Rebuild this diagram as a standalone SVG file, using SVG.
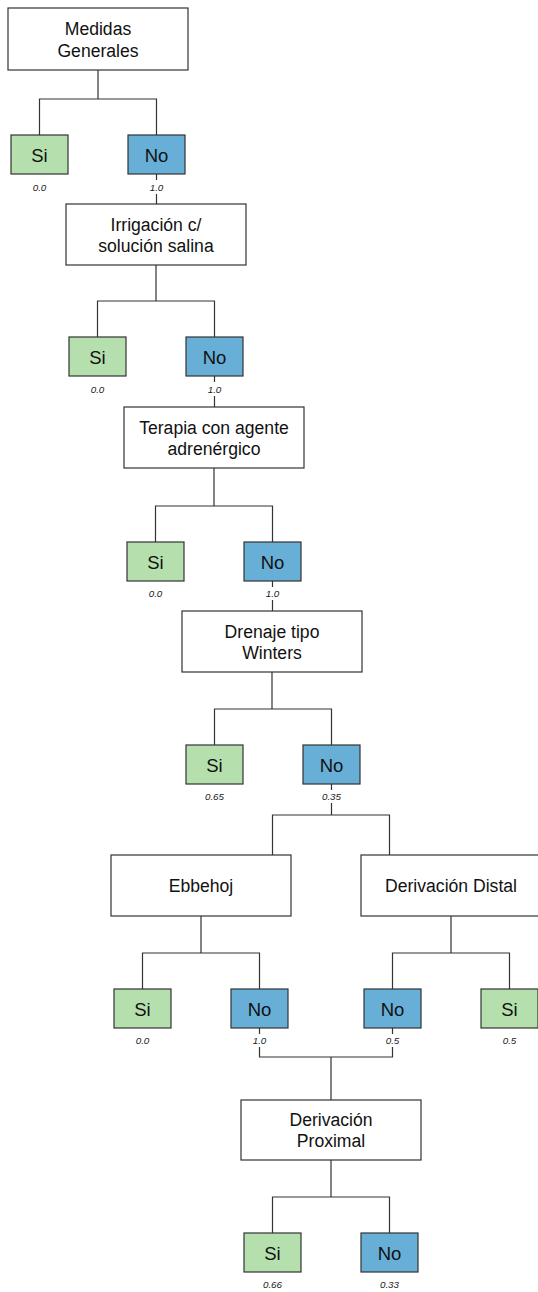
<svg xmlns="http://www.w3.org/2000/svg" width="538" height="1292" viewBox="0 0 538 1292">
<style>
.box{fill:#ffffff;stroke:#333333;stroke-width:1.2}
.si{fill:#b5e0ad;stroke:#333333;stroke-width:1.2}
.no{fill:#68afd8;stroke:#333333;stroke-width:1.2}
.t{font-family:"Liberation Sans",Arial,sans-serif;font-size:17.6px;fill:#111111;text-anchor:middle}
.yn{font-family:"Liberation Sans",Arial,sans-serif;font-size:18.5px;fill:#111111;text-anchor:middle}
.p{font-family:"Liberation Sans",Arial,sans-serif;font-size:9.8px;font-style:italic;fill:#222222;text-anchor:middle}
.c{fill:none;stroke:#333333;stroke-width:1.2}
</style>
<rect width="538" height="1292" fill="#ffffff"/>
<g id="connectors">
<path class="c" d="M98,70 V99 M39.5,135 V99 H156.5 V135"/>
<path class="c" d="M156.5,174 V180 M156.5,194 V204"/>
<path class="c" d="M156,265 V301 M97.5,337 V301 H214.5 V337"/>
<path class="c" d="M214.5,376 V382 M214.5,396 V407"/>
<path class="c" d="M214,468 V506 M155.5,542 V506 H272.5 V542"/>
<path class="c" d="M272.5,581 V587 M272.5,600 V611"/>
<path class="c" d="M272,672 V709 M214.5,745 V709 H331.5 V745"/>
<path class="c" d="M331.5,784 V790 M331.5,803 V815 M272.5,855 V815 H389.5 V855"/>
<path class="c" d="M201,916 V953 M142.5,989 V953 H259.5 V989"/>
<path class="c" d="M451,916 V953 M392.5,989 V953 H509.5 V989"/>
<path class="c" d="M259.5,1028 V1034 M392.5,1028 V1034 M259.5,1047 V1057 H392.5 V1047 M331,1057 V1100"/>
<path class="c" d="M331,1160 V1197 M272.5,1233 V1197 H389.5 V1233"/>
</g>
<g id="n-medidas"><rect class="box" x="8" y="8" width="180" height="62"/><text class="t" x="98" y="35">Medidas</text><text class="t" x="98" y="57">Generales</text></g>
<g id="n-si1"><rect class="si" x="11" y="135" width="57" height="39"/><text class="yn" x="39.5" y="161.5">Si</text><text class="p" x="39.5" y="191">0.0</text></g>
<g id="n-no1"><rect class="no" x="128" y="135" width="57" height="39"/><text class="yn" x="156.5" y="161.5">No</text><text class="p" x="156.5" y="191">1.0</text></g>
<g id="n-irrigacion"><rect class="box" x="66" y="204" width="180" height="61"/><text class="t" x="156" y="231">Irrigación c/</text><text class="t" x="156" y="252">solución salina</text></g>
<g id="n-si2"><rect class="si" x="69" y="337" width="57" height="39"/><text class="yn" x="97.5" y="363.5">Si</text><text class="p" x="97.5" y="393">0.0</text></g>
<g id="n-no2"><rect class="no" x="186" y="337" width="57" height="39"/><text class="yn" x="214.5" y="363.5">No</text><text class="p" x="214.5" y="393">1.0</text></g>
<g id="n-terapia"><rect class="box" x="124" y="407" width="180" height="61"/><text class="t" x="214" y="434">Terapia con agente</text><text class="t" x="214" y="455">adrenérgico</text></g>
<g id="n-si3"><rect class="si" x="127" y="542" width="57" height="39"/><text class="yn" x="155.5" y="568.5">Si</text><text class="p" x="155.5" y="597">0.0</text></g>
<g id="n-no3"><rect class="no" x="244" y="542" width="57" height="39"/><text class="yn" x="272.5" y="568.5">No</text><text class="p" x="272.5" y="597">1.0</text></g>
<g id="n-drenaje"><rect class="box" x="182" y="611" width="180" height="61"/><text class="t" x="272" y="638">Drenaje tipo</text><text class="t" x="272" y="659">Winters</text></g>
<g id="n-si4"><rect class="si" x="186" y="745" width="57" height="39"/><text class="yn" x="214.5" y="771.5">Si</text><text class="p" x="214.5" y="800">0.65</text></g>
<g id="n-no4"><rect class="no" x="303" y="745" width="57" height="39"/><text class="yn" x="331.5" y="771.5">No</text><text class="p" x="331.5" y="800">0.35</text></g>
<g id="n-ebbehoj"><rect class="box" x="111" y="855" width="180" height="61"/><text class="t" x="201" y="892">Ebbehoj</text></g>
<g id="n-distal"><rect class="box" x="361" y="855" width="180" height="61"/><text class="t" x="451" y="892">Derivación Distal</text></g>
<g id="n-si5"><rect class="si" x="114" y="989" width="57" height="39"/><text class="yn" x="142.5" y="1015.5">Si</text><text class="p" x="142.5" y="1044">0.0</text></g>
<g id="n-no5"><rect class="no" x="231" y="989" width="57" height="39"/><text class="yn" x="259.5" y="1015.5">No</text><text class="p" x="259.5" y="1044">1.0</text></g>
<g id="n-no6"><rect class="no" x="364" y="989" width="57" height="39"/><text class="yn" x="392.5" y="1015.5">No</text><text class="p" x="392.5" y="1044">0.5</text></g>
<g id="n-si6"><rect class="si" x="481" y="989" width="57" height="39"/><text class="yn" x="509.5" y="1015.5">Si</text><text class="p" x="509.5" y="1044">0.5</text></g>
<g id="n-proximal"><rect class="box" x="241" y="1100" width="180" height="60"/><text class="t" x="331" y="1126">Derivación</text><text class="t" x="331" y="1147">Proximal</text></g>
<g id="n-si7"><rect class="si" x="244" y="1233" width="57" height="39"/><text class="yn" x="272.5" y="1259.5">Si</text><text class="p" x="272.5" y="1288">0.66</text></g>
<g id="n-no7"><rect class="no" x="361" y="1233" width="57" height="39"/><text class="yn" x="389.5" y="1259.5">No</text><text class="p" x="389.5" y="1288">0.33</text></g>
</svg>
